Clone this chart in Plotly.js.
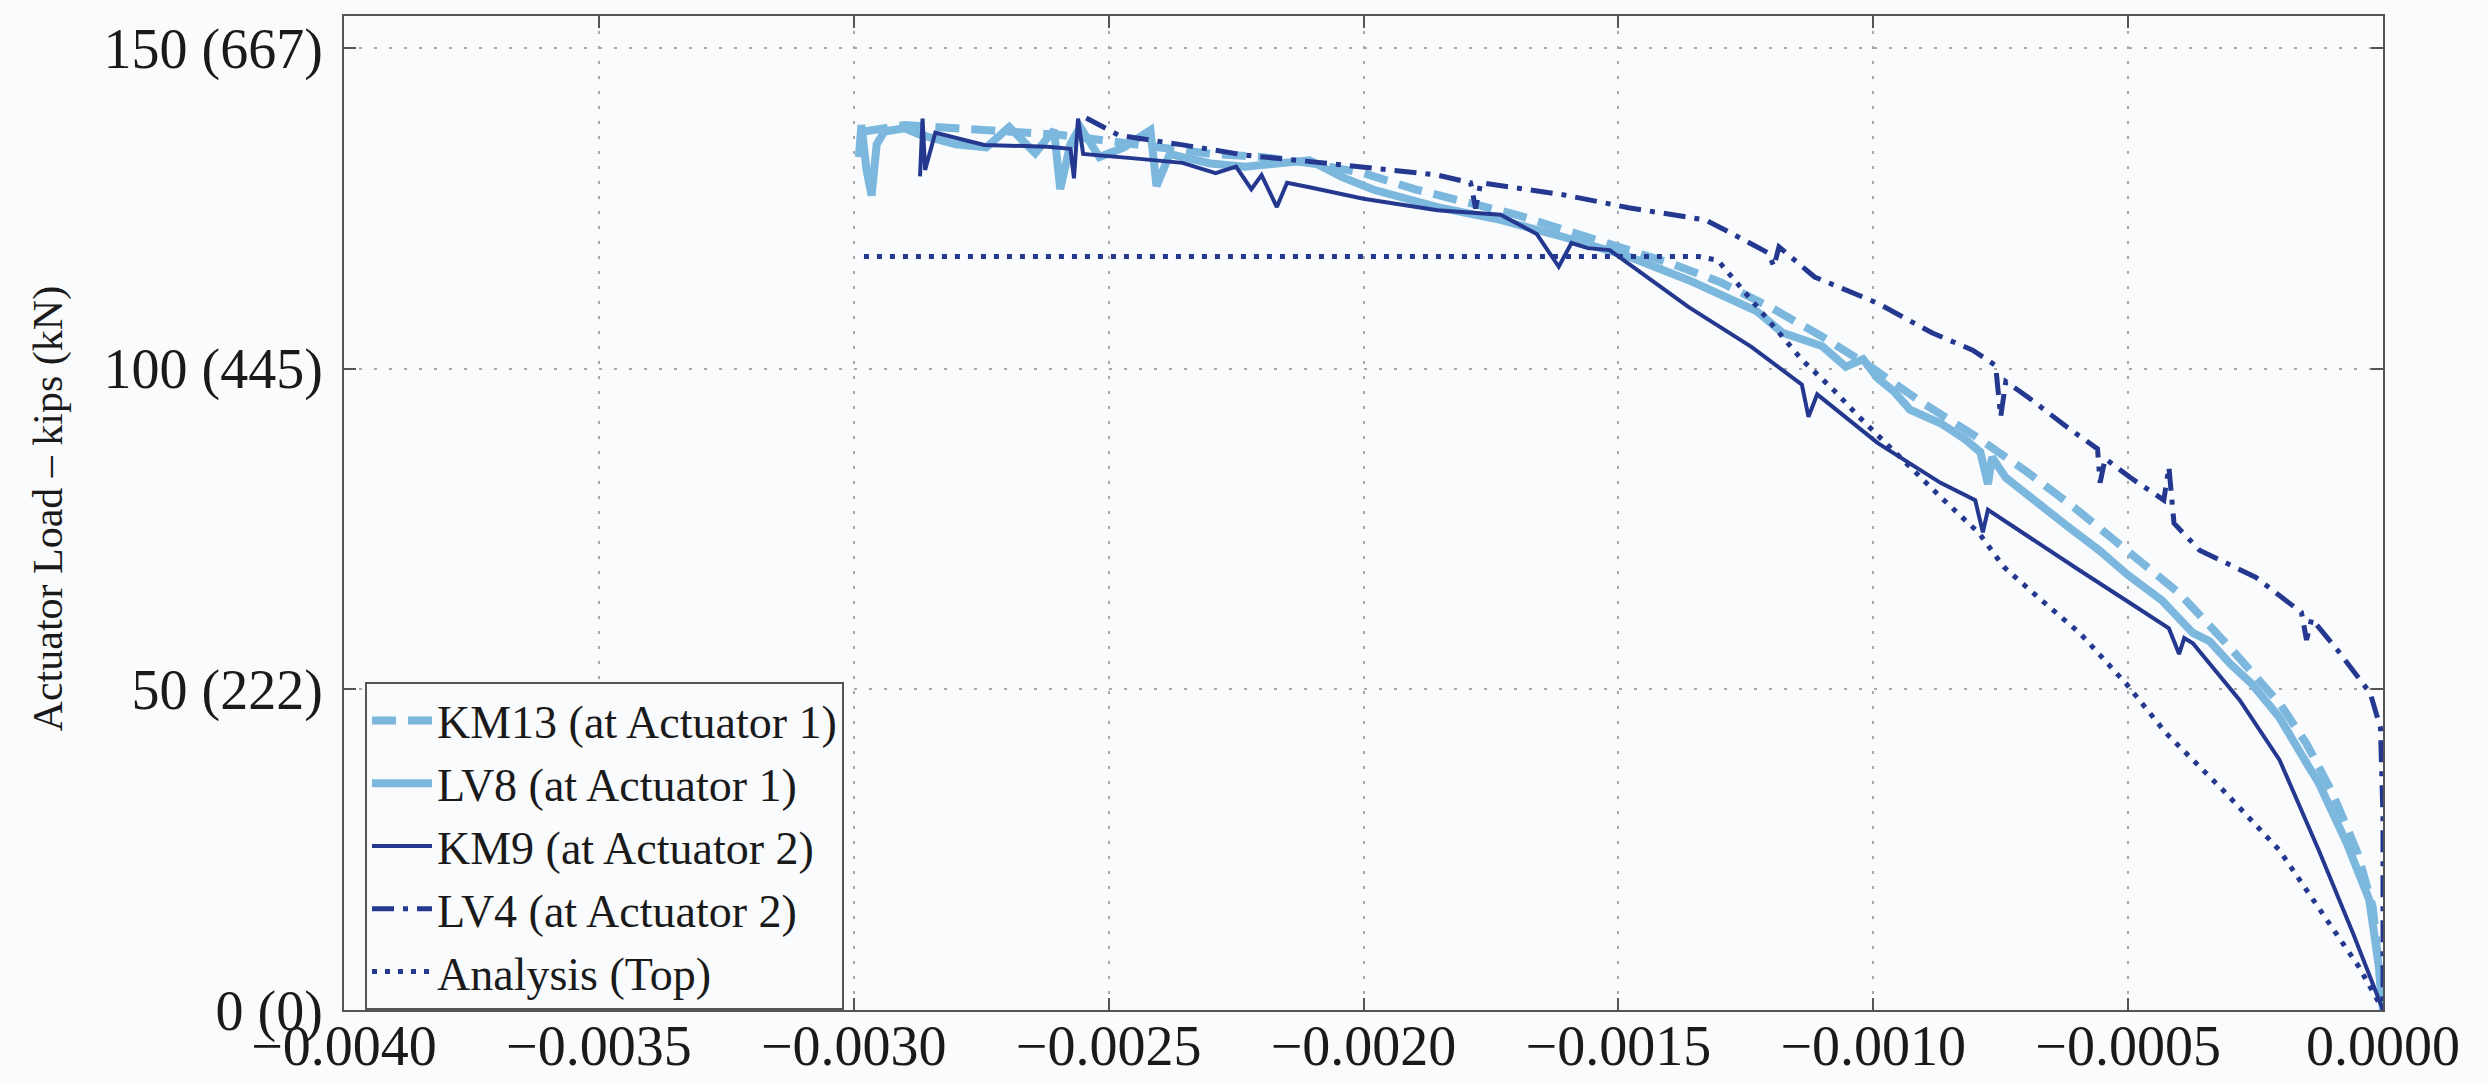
<!DOCTYPE html>
<html>
<head>
<meta charset="utf-8">
<script src="https://cdn.plot.ly/plotly-3.0.1.min.js"></script>
<style>
  html, body { margin: 0; padding: 0; background: #f9fbfd; }
  #chart { width: 2488px; height: 1082px; }
</style>
</head>
<body>
<div id="chart"></div>
<script>
// ---------- data ----------
const seriesNames = ['KM13 (at Actuator 1)', 'LV8 (at Actuator 1)', 'KM9 (at Actuator 2)', 'LV4 (at Actuator 2)', 'Analysis (Top)'];

const km13X = [-0.002980, -0.002900, -0.002800, -0.002700, -0.002600, -0.002500, -0.002400, -0.002300, -0.002200, -0.002100, -0.002000, -0.001900, -0.001800, -0.001700, -0.001600, -0.001500, -0.001400, -0.001300, -0.001200, -0.001100, -0.001000, -0.000900, -0.000800, -0.000700, -0.000600, -0.000500, -0.000400, -0.000300, -0.000200, -0.000150, -0.000100, -0.000050, -0.000020, 0];
const km13Y = [137.0, 138.0, 137.5, 137.0, 136.5, 135.5, 134.5, 133.5, 133.0, 132.0, 130.5, 128.0, 126.0, 124.0, 121.5, 119.0, 116.5, 113.5, 109.5, 105.0, 100.0, 94.5, 89.5, 84.0, 78.0, 71.5, 65.0, 56.5, 47.5, 41.5, 34.0, 24.5, 16.0, 0];

const lv8X = [-0.002990, -0.002985, -0.002975, -0.002965, -0.002955, -0.002940, -0.002900, -0.002870, -0.002800, -0.002740, -0.002695, -0.002660, -0.002644, -0.002620, -0.002607, -0.002595, -0.002575, -0.002556, -0.002518, -0.002470, -0.002418, -0.002406, -0.002380, -0.002355, -0.002300, -0.002232, -0.002160, -0.002106, -0.002043, -0.001980, -0.001855, -0.001731, -0.001606, -0.001523, -0.001480, -0.001362, -0.001300, -0.001229, -0.001178, -0.001100, -0.001054, -0.001020, -0.000991, -0.000960, -0.000928, -0.000868, -0.000820, -0.000790, -0.000775, -0.000767, -0.000740, -0.000681, -0.000620, -0.000557, -0.000500, -0.000434, -0.000373, -0.000340, -0.000300, -0.000259, -0.000204, -0.000150, -0.000126, -0.000071, -0.000027, -0.000008, 0];
const lv8Y = [133.0, 138.0, 131.0, 127.0, 135.0, 137.0, 137.5, 136.5, 135.0, 134.5, 137.7, 135.0, 133.6, 136.0, 137.2, 128.0, 135.0, 137.7, 133.0, 134.5, 137.2, 128.5, 133.5, 133.0, 132.0, 131.5, 132.0, 132.5, 129.9, 127.9, 125.2, 123.2, 120.5, 118.4, 117.5, 113.8, 111.5, 109.0, 105.6, 103.5, 100.3, 101.5, 98.5, 96.5, 93.6, 91.5, 89.0, 87.0, 82.0, 86.2, 83.0, 79.5, 75.5, 71.7, 67.8, 63.9, 58.8, 57.5, 54.0, 51.0, 45.7, 38.5, 35.4, 26.0, 17.2, 6.7, 0];

const km9X = [-0.002870, -0.002865, -0.002860, -0.002840, -0.002744, -0.002620, -0.002575, -0.002568, -0.002560, -0.002550, -0.002450, -0.002355, -0.002290, -0.002250, -0.002220, -0.002200, -0.002170, -0.002150, -0.002106, -0.002000, -0.001855, -0.001731, -0.001660, -0.001617, -0.001592, -0.001560, -0.001517, -0.001454, -0.001424, -0.001362, -0.001239, -0.001140, -0.001127, -0.001110, -0.000991, -0.000868, -0.000800, -0.000785, -0.000775, -0.000707, -0.000600, -0.000497, -0.000420, -0.000400, -0.000390, -0.000373, -0.000281, -0.000203, -0.000126, -0.000059, 0];
const km9Y = [130.0, 139.0, 131.0, 136.8, 134.9, 134.6, 134.3, 129.7, 139.0, 133.5, 132.8, 132.1, 130.5, 131.5, 128.0, 130.2, 125.2, 129.0, 128.3, 126.5, 124.7, 124.0, 121.0, 115.9, 119.6, 118.8, 118.5, 114.9, 113.3, 109.6, 103.4, 97.5, 92.5, 96.0, 88.4, 82.2, 79.5, 74.5, 78.0, 74.4, 68.8, 63.5, 59.5, 55.5, 58.0, 57.2, 48.3, 39.0, 24.9, 12.0, 0];

const lv4X = [-0.002544, -0.002480, -0.002355, -0.002232, -0.002043, -0.001855, -0.001790, -0.001780, -0.001770, -0.001606, -0.001480, -0.001329, -0.001254, -0.001205, -0.001195, -0.001185, -0.001115, -0.000991, -0.000885, -0.000805, -0.000760, -0.000750, -0.000740, -0.000697, -0.000620, -0.000560, -0.000555, -0.000545, -0.000497, -0.000430, -0.000420, -0.000410, -0.000360, -0.000250, -0.000160, -0.000150, -0.000140, -0.000089, -0.000025, -0.000005, 0, 0];
const lv4Y = [139.1, 136.4, 134.9, 133.3, 131.8, 130.2, 129.0, 125.0, 129.0, 127.1, 125.1, 123.2, 120.1, 118.0, 115.9, 119.0, 114.3, 110.2, 105.6, 102.9, 100.5, 92.5, 98.0, 95.6, 90.9, 87.5, 82.2, 86.0, 83.1, 79.5, 84.7, 75.9, 71.7, 67.5, 62.0, 57.7, 61.0, 56.1, 49.4, 44.0, 30.0, 0];

const analysisX = [-0.002980, -0.001343, -0.001305, -0.001268, -0.001217, -0.001140, -0.001078, -0.001028, -0.000928, -0.000868, -0.000793, -0.000744, -0.000670, -0.000595, -0.000503, -0.000426, -0.000314, -0.000203, -0.000114, -0.000047, 0];
const analysisY = [117.5, 117.5, 116.9, 113.4, 108.7, 101.4, 96.7, 92.5, 84.7, 80.0, 74.4, 69.1, 63.9, 58.8, 50.8, 43.2, 34.3, 24.9, 14.5, 6.7, 0];

const xTickVals = [-0.0040, -0.0035, -0.0030, -0.0025, -0.0020, -0.0015, -0.0010, -0.0005, 0.0];
const xTickText = ['\u22120.0040', '\u22120.0035', '\u22120.0030', '\u22120.0025', '\u22120.0020', '\u22120.0015', '\u22120.0010', '\u22120.0005', '0.0000'];
const yTickVals = [0, 50, 100, 150];
const yTickText = ['0 (0)', '50 (222)', '100 (445)', '150 (667)'];
const yTitle = 'Actuator Load \u2013 kips (kN)';

// ---------- styles ----------
const lightBlue = '#7cb8de';
const darkBlue = '#25388f';
const serif = 'Liberation Serif, Times New Roman, serif';
const bg = '#f9fbfd';

const traces = [
  { x: km13X, y: km13Y, name: seriesNames[0], mode: 'lines',
    line: { color: lightBlue, width: 8, dash: '24px,12px' } },
  { x: lv8X, y: lv8Y, name: seriesNames[1], mode: 'lines',
    line: { color: lightBlue, width: 8 } },
  { x: km9X, y: km9Y, name: seriesNames[2], mode: 'lines',
    line: { color: darkBlue, width: 4 } },
  { x: lv4X, y: lv4Y, name: seriesNames[3], mode: 'lines',
    line: { color: darkBlue, width: 5, dash: '22px,9px,5px,9px' } },
  { x: analysisX, y: analysisY, name: seriesNames[4], mode: 'lines',
    line: { color: darkBlue, width: 5, dash: '5px,8px' } }
];

const axisCommon = {
  showline: true, linecolor: '#555', linewidth: 2, mirror: 'ticks',
  ticks: 'inside', ticklen: 12, tickwidth: 2, tickcolor: '#555',
  showgrid: true, gridcolor: '#a8a8a8', gridwidth: 2, griddash: '3px,12px',
  zeroline: false,
  tickfont: { family: serif, size: 56, color: '#1a1a1a' }
};

const layout = {
  width: 2488, height: 1082,
  paper_bgcolor: bg, plot_bgcolor: bg,
  margin: { l: 344, r: 105, t: 16, b: 72 },
  showlegend: true,
  xaxis: Object.assign({}, axisCommon, {
    range: [-0.004, 0], tickvals: xTickVals, ticktext: xTickText, ticklabelstandoff: -14
  }),
  yaxis: Object.assign({}, axisCommon, {
    range: [0, 155], tickvals: yTickVals, ticktext: yTickText, ticklabelstandoff: 8
  }),
  legend: {
    x: 0.0103, y: 0.33, xanchor: 'left', yanchor: 'top',
    bgcolor: bg, bordercolor: '#555', borderwidth: 2,
    font: { family: serif, size: 46, color: '#1a1a1a' },
    itemwidth: 60, tracegroupgap: 0
  },
  annotations: [{
    text: yTitle, xref: 'paper', yref: 'paper', x: -0.145, y: 0.505,
    xanchor: 'center', yanchor: 'middle', textangle: -90, showarrow: false,
    font: { family: serif, size: 42, color: '#1a1a1a' }
  }]
};

Plotly.newPlot('chart', traces, layout, { staticPlot: true, displayModeBar: false });
</script>
</body>
</html>
